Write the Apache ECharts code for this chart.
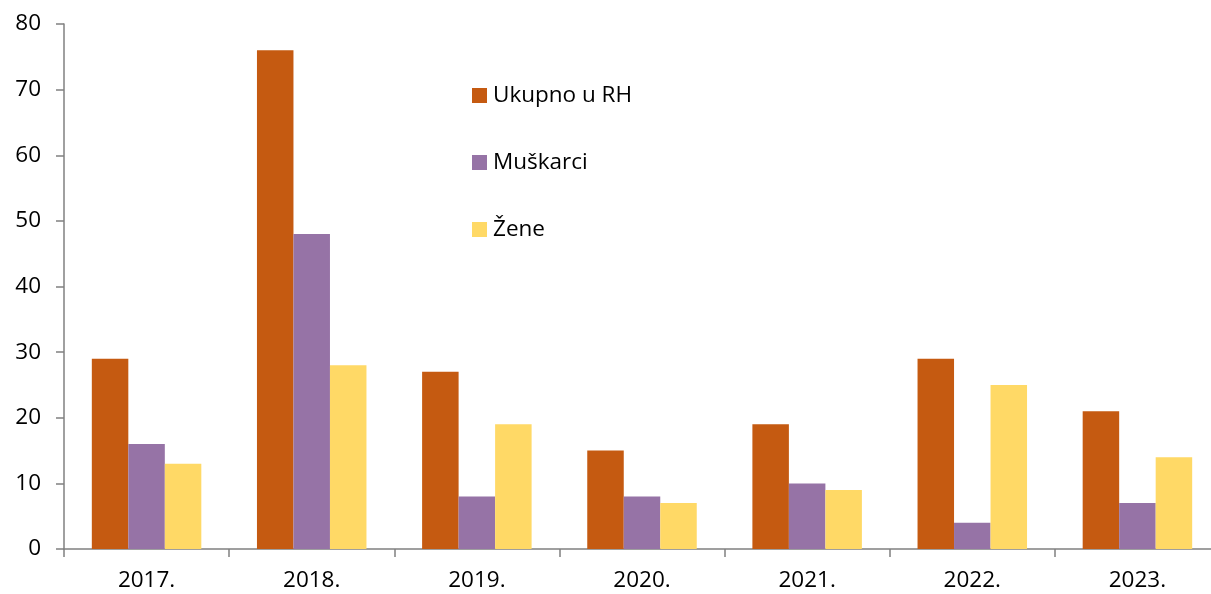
<!DOCTYPE html>
<html>
<head>
<meta charset="utf-8">
<script src="https://cdn.jsdelivr.net/npm/echarts@6/dist/echarts.min.js"></script>
<style>
  html, body { margin: 0; padding: 0; background: #fff; }
  #main { width: 1211px; height: 594px; }
</style>
</head>
<body>
<div id="main"></div>
<script>
var years = ['2017.', '2018.', '2019.', '2020.', '2021.', '2022.', '2023.'];
var ukupno = [29, 76, 27, 15, 19, 29, 21];
var muskarci = [16, 48, 8, 8, 10, 4, 7];
var zene = [13, 28, 19, 7, 9, 25, 14];

var font = '"Open Sans", Lato, sans-serif';
var chart = echarts.init(document.getElementById('main'));

function bar(name, data, color) {
    return {
        name: name,
        type: 'bar',
        data: data,
        barWidth: 36.5,
        barGap: '0%',
        itemStyle: { color: color },
        animation: false
    };
}

chart.setOption({
    animation: false,
    grid: { left: 64, top: 24, height: 525, width: 1156, outerBoundsMode: 'none', containLabel: false },
    legend: {
        orient: 'vertical',
        left: 472,
        top: 84,
        padding: 0,
        itemWidth: 15,
        itemHeight: 15,
        itemGap: 44,
        icon: 'rect',
        textStyle: { fontFamily: font, fontSize: 22.5, color: '#000', padding: [0, 0, 0, 1] },
        data: ['Ukupno u RH', 'Muškarci', 'Žene']
    },
    xAxis: {
        type: 'category',
        data: years,
        axisLine: { lineStyle: { color: '#808080', width: 1.5 } },
        axisTick: { show: true, length: 8, lineStyle: { color: '#808080', width: 1.5 } },
        axisLabel: { fontFamily: font, fontSize: 22.5, color: '#000', margin: 20 }
    },
    yAxis: {
        type: 'value',
        min: 0,
        max: 80,
        interval: 10,
        splitLine: { show: false },
        axisLine: { show: true, lineStyle: { color: '#808080', width: 1.5 } },
        axisTick: { show: true, length: 8, lineStyle: { color: '#808080', width: 1.5 } },
        axisLabel: { fontFamily: font, fontSize: 22.5, color: '#000', margin: 23 }
    },
    series: [
        bar('Ukupno u RH', ukupno, '#C55A11'),
        bar('Muškarci', muskarci, '#9673A6'),
        bar('Žene', zene, '#FFD966')
    ]
});
</script>
</body>
</html>
